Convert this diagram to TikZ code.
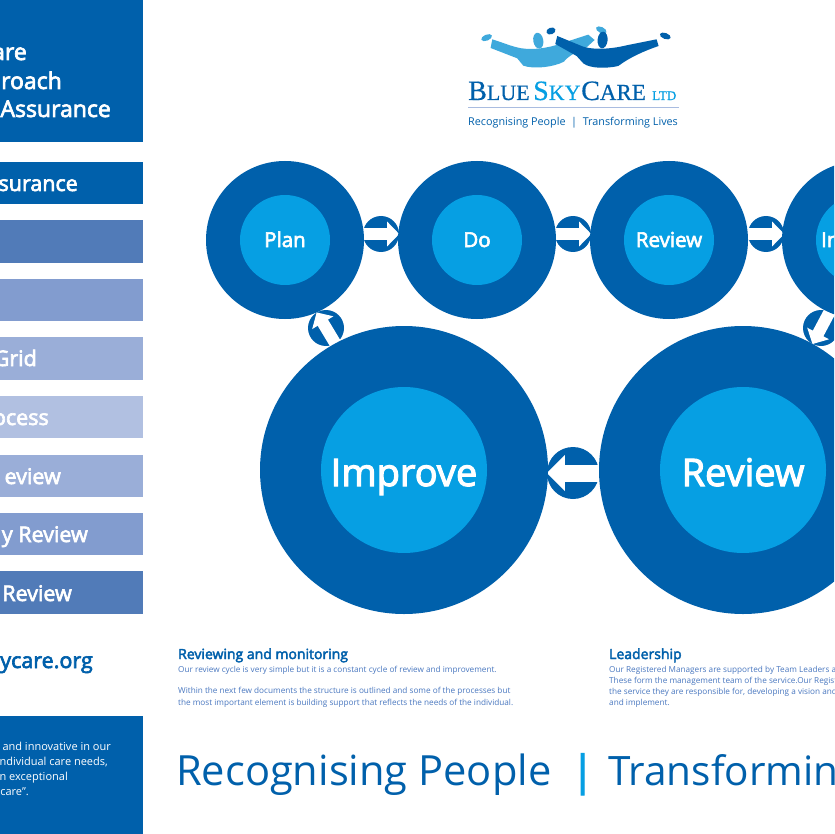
\documentclass[tikz,border=0pt]{standalone}
\usepackage{fontspec}
\setmainfont{Open Sans}[BoldFont={Open Sans},BoldFeatures={FakeBold=3}]
\newfontfamily\logoserif{Liberation Serif}[FakeBold=0.5]
\usetikzlibrary{arrows.meta}
\definecolor{navy}{HTML}{0060AB}
\definecolor{sky}{HTML}{069FE3}
\definecolor{barA}{HTML}{517BB8}
\definecolor{barB}{HTML}{829CCF}
\definecolor{barC}{HTML}{9AAED8}
\definecolor{barD}{HTML}{B1C0E1}
\definecolor{bodyblue}{HTML}{4A78C0}
\definecolor{lightfig}{HTML}{3FA9DC}
\definecolor{rulecol}{HTML}{A9BCE0}
\tikzset{
 bar/.style={rectangle,draw=none,inner sep=0pt,minimum width=143pt,anchor=north west},
 bartext/.style={text=white,font=\bfseries\fontsize{21.5}{24}\selectfont,anchor=base east,inner sep=0pt},
 outerS/.style={circle,fill=navy,inner sep=0pt,minimum size=158pt},
 innerS/.style={circle,fill=sky,inner sep=0pt,minimum size=90pt,text=white,text height=14pt,text depth=0pt,font=\bfseries\fontsize{20.5}{22}\selectfont},
 outerL/.style={circle,fill=navy,inner sep=0pt,minimum size=288pt},
 innerL/.style={circle,fill=sky,inner sep=0pt,minimum size=166pt,text=white,text height=32pt,text depth=0pt,font=\bfseries\fontsize{38}{42}\selectfont},
 badge/.style={circle,fill=navy,inner sep=0pt,minimum size=36pt},
 badgeL/.style={circle,fill=navy,inner sep=0pt,minimum size=52pt},
 whitearrow/.style={draw=white,line width=12pt,-{Triangle[length=12pt,width=24pt,fill=white]}},
 whitearrowL/.style={draw=white,line width=17pt,-{Triangle[length=18pt,width=35pt,fill=white]}},
 head/.style={text=navy,font=\bfseries\fontsize{14}{16}\selectfont,anchor=base west,inner sep=0pt},
 body/.style={text=bodyblue,font=\fontsize{8.2}{10}\selectfont,anchor=base west,inner sep=0pt},
 sidetext/.style={text=white,font=\fontsize{11}{13}\selectfont,anchor=base east,inner sep=0pt},
 tag/.style={text=navy,font=\fontsize{41.6}{48}\selectfont,anchor=base west,inner sep=0pt},
}
\begin{document}
\begin{tikzpicture}[x=1pt,y=-1pt]
\useasboundingbox (0,0) rectangle (834,834);
\clip (0,0) rectangle (834,834);
\fill[white] (0,0) rectangle (834,834);
% side panel
\node[bar,fill=navy,minimum height=142pt] (hdr) at (0,0) {};
\node[bar,fill=navy,minimum height=42pt] (b1) at (0,162) {};
\node[bar,fill=barA,minimum height=43pt] (b2) at (0,220) {};
\node[bar,fill=barB,minimum height=42pt] (b3) at (0,279) {};
\node[bar,fill=barC,minimum height=43pt] (b4) at (0,337) {};
\node[bar,fill=barD,minimum height=42pt] (b5) at (0,396) {};
\node[bar,fill=barC,minimum height=42pt] (b6) at (0,455) {};
\node[bar,fill=barB,minimum height=42pt] (b7) at (0,513) {};
\node[bar,fill=barA,minimum height=43pt] (b8) at (0,571) {};
\node[bar,fill=navy,minimum height=118pt] (b9) at (0,716) {};
\node[bartext,font=\bfseries\fontsize{23}{26}\selectfont] (h1) at (27,60) {are};
\node[bartext,font=\bfseries\fontsize{23}{26}\selectfont] (h2) at (62,89) {roach};
\node[bartext,font=\bfseries\fontsize{23}{26}\selectfont] (h3) at (111,117) {Assurance};
\node[bartext] (t1) at (78,191) {ssurance};
\node[bartext] (t4) at (37,366) {Grid};
\node[bartext] (t5) at (49,425) {ocess};
\node[bartext] (t6) at (61,484) {eview};
\node[bartext] (t7) at (88,542) {y Review};
\node[bartext] (t8) at (72,601) {Review};
\node[bartext,text=navy] (web) at (93,668) {ycare.org};
\node[sidetext] (s1) at (111,750) {and innovative in our};
\node[sidetext] (s2) at (108,765) {individual care needs,};
\node[sidetext] (s3) at (68,780) {n exceptional};
\node[sidetext] (s4) at (29,795) {care”.};
% logo figures
\begin{scope}[x=0.3333pt,y=-0.3333pt,shift={(1320,30)}]
 \fill[lightfig,rotate around={22:(140,83)}] (140,83) ellipse (17 and 9);
 \fill[lightfig,rotate around={10:(295,92)}] (295,92) ellipse (15 and 24);
 \fill[lightfig,rotate around={-25:(484,60)}] (484,60) ellipse (17 and 9);
 \fill[lightfig] (157,88) .. controls (190,98) and (215,110) .. (245,115) .. controls (290,122) and (340,110) .. (380,95) -- (445,74) -- (464,90) -- (440,112) .. controls (410,125) and (385,138) .. (372,155) .. controls (340,172) and (280,178) .. (250,167) -- (232,145) -- (152,114) -- cycle;
 \fill[navy,rotate around={20:(333,63)}] (333,63) ellipse (14 and 10);
 \fill[navy,rotate around={-5:(488,90)}] (488,90) ellipse (15 and 25);
 \fill[navy,rotate around={-20:(676,78)}] (676,78) ellipse (17 and 9);
 \fill[navy] (352,78) -- (415,104) .. controls (450,122) and (510,118) .. (560,106) -- (650,88) -- (656,108) .. controls (610,124) and (570,142) .. (535,168) .. controls (500,176) and (450,176) .. (430,160) -- (410,138) -- (346,102) -- cycle;
\end{scope}
\node[inner sep=0pt,anchor=base west,text=navy,font=\logoserif\fontsize{28}{30}\selectfont] (logo1) at (468,100) {B\fontsize{22}{24}\selectfont LUE};
\node[inner sep=0pt,anchor=base west,text=sky,font=\logoserif\fontsize{28}{30}\selectfont] (logo2) at (533,100) {S\fontsize{22}{24}\selectfont KY};
\node[inner sep=0pt,anchor=base west,text=navy,font=\logoserif\fontsize{28}{30}\selectfont] (logo3) at (581,100) {C\fontsize{23}{24}\selectfont ARE};
\node[inner sep=0pt,anchor=base west,text=sky,font=\logoserif\fontsize{13}{16}\selectfont] (logo4) at (652,100) {LTD};
\draw[rulecol,line width=1pt] (468,108) -- (679,108);
\node[inner sep=0pt,anchor=base west,text=navy,font=\fontsize{10.8}{13}\selectfont] (logo5) at (468,125.5) {Recognising People \ | \ Transforming Lives};
% badges
\node[badge] (c1) at (381,234) {};
\node[badge] (c2) at (573,234) {};
\node[badge] (c3) at (766,234) {};
\node[badge] (c4) at (821,328) {};
\node[badge] (c5) at (326,328) {};
\node[badgeL] (c6) at (573,473) {};
\draw[whitearrow] (c1.west) -- (c1.east);
\draw[whitearrow] (c2.west) -- (c2.east);
\draw[whitearrow] (c3.west) -- (c3.east);
\draw[whitearrow] (c4.62) -- (c4.242);
\draw[whitearrow] (c5.301) -- (c5.121);
\draw[whitearrowL] (c6.east) -- (c6.west);
% small circles
\node[outerS] (o1) at (285,240) {};
\node[innerS] (plan) at (285,240) {Plan};
\node[outerS] (o2) at (477,240) {};
\node[innerS] (do) at (477,240) {Do};
\node[outerS] (o3) at (669,240) {};
\node[innerS] (review) at (669,240) {Review};
\node[outerS] (o4) at (861,240) {};
\node[innerS] (impl) at (861,240) {};
\node[text=white,font=\bfseries\fontsize{20.5}{22}\selectfont,anchor=base west,inner sep=0pt] (imtxt) at (821,247) {In};
% large circles
\node[outerL] (o5) at (404,470) {};
\node[innerL] (improve) at (404,470) {Improve};
\node[outerL] (o6) at (743,470) {};
\node[innerL] (reviewL) at (743,470) {Review};
% text
\node[head] (rm) at (178,659) {Reviewing and monitoring};
\node[body] (r1) at (178,672) {Our review cycle is very simple but it is a constant cycle of review and improvement.};
\node[body] (r2) at (178,693) {Within the next few documents the structure is outlined and some of the processes but};
\node[body] (r3) at (178,705) {the most important element is building support that reflects the needs of the individual.};
\node[head] (ld) at (609,659) {Leadership};
\node[body] (l1) at (609,672) {Our Registered Managers are supported by Team Leaders ar};
\node[body] (l2) at (609,683) {These form the management team of the service.Our Regist};
\node[body] (l3) at (609,694) {the service they are responsible for, developing a vision and};
\node[body] (l4) at (609,705) {and implement.};
\node[tag] (tg1) at (176,785) {Recognising People};
\node[tag,text=sky,font=\bfseries\fontsize{41.6}{48}\selectfont] (tg2) at (571,785) {|};
\node[tag,font=\fontsize{40.5}{48}\selectfont] (tg3) at (608,785) {Transformin};
\end{tikzpicture}
\end{document}
